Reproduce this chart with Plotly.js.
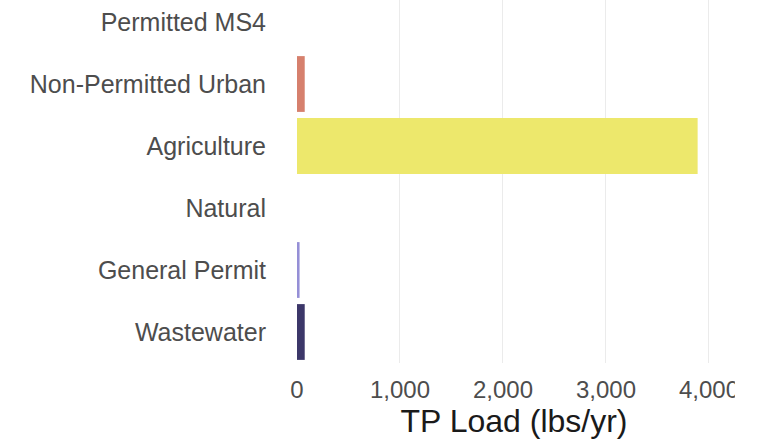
<!DOCTYPE html>
<html>
<head>
<meta charset="utf-8">
<script src="https://cdn.plot.ly/plotly-3.0.1.min.js"></script>
<style>html,body{margin:0;padding:0;background:#fff;}#chart{width:759px;height:440px;}</style>
</head>
<body>
<div id="chart"></div>
<script>
const categories = ["Wastewater", "General Permit", "Natural", "Agriculture", "Non-Permitted Urban", "Permitted MS4"];
const loads = [75, 25, 0, 3890, 75, 0];
const colors = ["#3c3769", "#958fd6", "#8fc98a", "#ede86c", "#d6806d", "#f4a98c"];
const xTickVals = [0, 1000, 2000, 3000, 4000];
const xTickText = ["0", "1,000", "2,000", "3,000", "4,000"];

const trace = {
  type: "bar",
  orientation: "h",
  x: loads,
  y: categories,
  marker: {color: colors, line: {width: 0}},
  width: 0.9,
  hoverinfo: "x+y"
};

const FONT = '"Liberation Sans", Arial, Helvetica, sans-serif';

const layout = {
  width: 759,
  height: 440,
  margin: {l: 297, r: 28, t: 0, b: 77},
  paper_bgcolor: "#ffffff",
  plot_bgcolor: "#ffffff",
  font: {family: FONT, color: "#4d4d4d", size: 24},
  showlegend: false,
  xaxis: {
    range: [0, 4214],
    tickvals: xTickVals,
    ticktext: xTickText,
    showgrid: true,
    gridcolor: "#ebebeb",
    gridwidth: 1,
    zeroline: false,
    showline: false,
    ticks: "",
    ticklabelstandoff: 10,
    tickfont: {family: FONT, size: 24, color: "#4d4d4d"},
    title: {text: "TP Load (lbs/yr)", font: {family: FONT, size: 32, color: "#1a1a1a"}, standoff: 0}
  },
  yaxis: {
    type: "category",
    categoryorder: "array",
    categoryarray: categories,
    range: [-0.5, 5.355],
    showgrid: false,
    zeroline: false,
    showline: false,
    ticks: "",
    ticklabelstandoff: 30,
    tickfont: {family: FONT, size: 25, color: "#4d4d4d"}
  },
  shapes: [{
    type: "rect", xref: "paper", yref: "paper",
    x0: 1.009, x1: 1.2, y0: -0.25, y1: -0.005,
    fillcolor: "#ffffff", line: {width: 0}, layer: "above"
  }]
};

Plotly.newPlot("chart", [trace], layout, {displayModeBar: false, staticPlot: true});
</script>
</body>
</html>
